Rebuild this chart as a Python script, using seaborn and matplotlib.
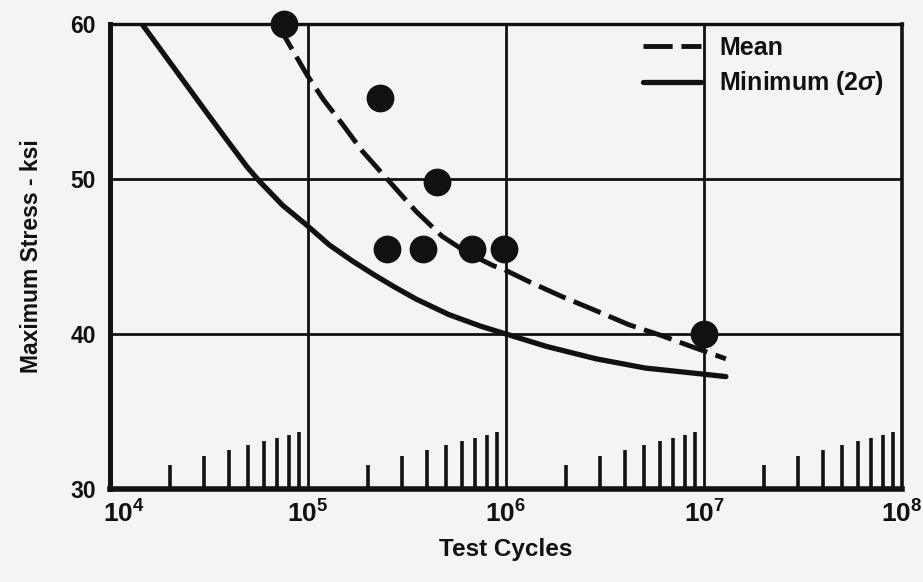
import numpy as np
import pandas as pd
import matplotlib
matplotlib.use("Agg")
import matplotlib.pyplot as plt
import matplotlib.transforms as mtransforms
import seaborn as sns
from matplotlib.ticker import FixedLocator, NullFormatter

# Fatigue curves: stress (ksi) against cycles
mean_cycles = [7.0e4, 9.9e4, 1.2e5, 1.5e5, 1.88e5, 2.51e5, 3.52e5,
               4.76e5, 6.46e5, 8.65e5, 1.0e6, 1.32e6, 1.93e6, 2.85e6, 4.17e6,
               6.1e6, 8.6e6, 1.29e7]
mean_stress = [60.0, 56.7, 55.1, 53.5, 51.8, 50.0, 47.9,
               46.3, 45.2, 44.4, 44.1, 43.35, 42.4, 41.5, 40.6,
               39.9, 39.2, 38.4]

min_cycles = [1.45e4, 1.85e4, 2.36e4, 3.01e4, 3.85e4, 4.91e4, 5.69e4, 7.45e4,
              9.9e4, 1.28e5, 1.68e5, 2.17e5, 2.72e5, 3.52e5, 5.15e5, 7.46e5,
              1.0e6, 1.6e6, 2.85e6, 5.07e6, 1.01e7, 1.29e7]
min_stress = [60.0, 58.15, 56.3, 54.45, 52.6, 50.8, 49.85, 48.3,
              47.0, 45.75, 44.7, 43.8, 43.05, 42.25, 41.25, 40.5,
              40.0, 39.2, 38.4, 37.8, 37.4, 37.25]

# Individual specimen results
test_cycles = [7.6e4, 2.3e5, 4.5e5, 2.5e5, 3.8e5, 6.7e5, 9.8e5, 1.0e7]
test_stress = [60.0, 55.2, 49.8, 45.5, 45.5, 45.5, 45.5, 40.0]

x_ticks = [1e4, 1e5, 1e6, 1e7, 1e8]
x_tick_labels = [r"$10^{4}$", r"$10^{5}$", r"$10^{6}$", r"$10^{7}$", r"$10^{8}$"]
y_ticks = [30, 40, 50, 60]
y_tick_labels = ["30", "40", "50", "60"]

sns.set_theme(style="white")
plt.rcParams["font.family"] = ["Liberation Sans", "DejaVu Sans"]
plt.rcParams["font.weight"] = "bold"
plt.rcParams["mathtext.fontset"] = "custom"
plt.rcParams["mathtext.rm"] = "Liberation Sans:bold"
plt.rcParams["mathtext.bf"] = "Liberation Sans:bold"
plt.rcParams["mathtext.it"] = "Liberation Sans:italic:bold"

ink = "#111111"
paper = "#f4f4f2"

fig = plt.figure(figsize=(9.23, 5.82), dpi=100, facecolor=paper)
ax = fig.add_axes([110 / 923, 1 - 489 / 582, 792 / 923, 465 / 582])
ax.set_facecolor(paper)

mean_df = pd.DataFrame({"cycles": mean_cycles, "stress": mean_stress})
min_df = pd.DataFrame({"cycles": min_cycles, "stress": min_stress})
pts_df = pd.DataFrame({"cycles": test_cycles, "stress": test_stress})

ax.set_xscale("log")
ax.set_xlim(1e4, 1e8)
ax.set_ylim(30, 60)

# Grid drawn at decades and every 10 ksi
for xv in x_ticks[1:-1]:
    ax.axvline(xv, color=ink, lw=2.0, zorder=1)
for yv in y_ticks[1:-1]:
    ax.axhline(yv, color=ink, lw=2.0, zorder=1)

sns.lineplot(data=mean_df, x="cycles", y="stress", ax=ax, color=ink, lw=3.5,
             estimator=None, sort=False, label="Mean", zorder=3)
mean_line = ax.lines[-1]
mean_line.set_dashes((6.0, 1.8))
mean_line.set_dash_capstyle("butt")
sns.lineplot(data=min_df, x="cycles", y="stress", ax=ax, color=ink, lw=3.8,
             estimator=None, sort=False, label="Minimum (2$\\mathit{\\sigma}$)",
             zorder=3)
for line in ax.lines[-2:]:
    line.set_solid_joinstyle("round")
    line.set_dash_joinstyle("round")

sns.scatterplot(data=pts_df, x="cycles", y="stress", ax=ax, s=400, color=ink,
                edgecolor=ink, linewidth=0, zorder=4, clip_on=False, legend=False)

# Axis frame
for side, lw in {"left": 3.6, "bottom": 4.0, "top": 2.4, "right": 2.6}.items():
    ax.spines[side].set_visible(True)
    ax.spines[side].set_linewidth(lw)
    ax.spines[side].set_color(ink)

ax.set_xticks(x_ticks)
ax.set_xticklabels(x_tick_labels, fontsize=19, color=ink)
ax.set_yticks(y_ticks)
ax.set_yticklabels(y_tick_labels, fontsize=16.5, fontweight="bold", color=ink)
ax.tick_params(axis="both", which="major", length=0)
ax.tick_params(axis="x", which="major", pad=8)
ax.tick_params(axis="y", which="major", pad=10)

# The leftmost decade label sits a little inside the corner
first = ax.get_xticklabels()[0]
first.set_transform(first.get_transform() +
                    mtransforms.ScaledTranslation(10 / 72, 0, fig.dpi_scale_trans))

# Minor log ticks rising from the bottom edge, longer toward each decade
minor_locs = [d * 10.0 ** k for k in range(4, 8) for d in range(2, 10)]
ax.xaxis.set_minor_locator(FixedLocator(minor_locs))
ax.xaxis.set_minor_formatter(NullFormatter())
ax.tick_params(axis="x", which="minor", direction="in", bottom=True, top=False,
               width=2.6, color=ink)
for tick, loc in zip(ax.xaxis.get_minor_ticks(), minor_locs):
    digit = loc / 10.0 ** np.floor(np.log10(loc) + 1e-9)
    length_px = 9 + 50 * np.log10(digit)
    tick.tick1line.set_markersize(length_px * 72 / 100)

ax.set_xlabel("Test Cycles", fontsize=17.5, fontweight="bold", color=ink, labelpad=8)
ax.set_ylabel("Maximum Stress - ksi", fontsize=16.5, fontweight="bold", color=ink,
              labelpad=20)

leg = ax.legend(loc="upper left", bbox_to_anchor=((643 - 110) / 792, (489 - 36) / 465),
                frameon=False, fontsize=18, handlelength=2.3, handletextpad=0.75,
                labelspacing=0.37, borderpad=0, borderaxespad=0)
for txt in leg.get_texts():
    txt.set_color(ink)
    txt.set_fontweight("bold")

fig.savefig("out.png", dpi=100, facecolor=paper)
